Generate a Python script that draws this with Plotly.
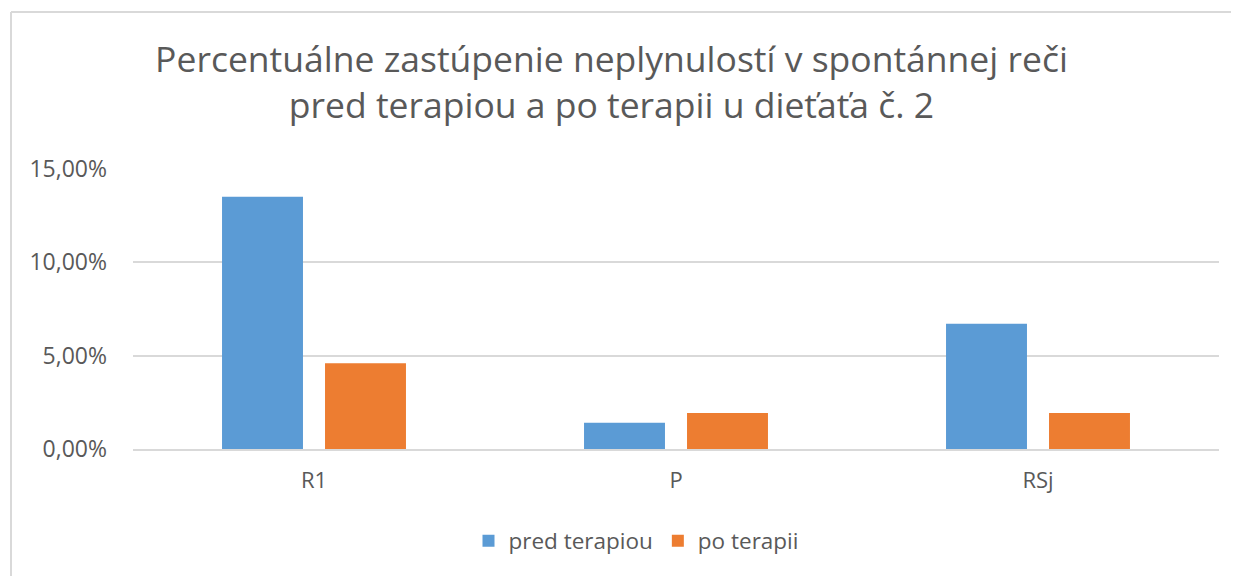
import plotly.graph_objects as go

categories = ["R1", "P", "RSj"]
pred_terapiou = [0.1351, 0.0140, 0.0671]
po_terapii = [0.0460, 0.0193, 0.0193]
series_names = ["pred terapiou", "po terapii"]
y_ticks = [0, 0.05, 0.10, 0.15]
title_lines = ["Percentuálne zastúpenie neplynulostí v spontánnej reči",
               "pred terapiou a po terapii u dieťaťa č. 2"]

# page has an 8px body margin, so the figure is sized/offset to compensate
OFF = 8
W, H = 1239 - OFF, 576 - OFF
L, R, T, B = 133 - OFF, 20, 169 - OFF, 127

fig = go.Figure()
fig.add_trace(go.Bar(x=categories, y=pred_terapiou, name=series_names[0],
                     marker=dict(color="#5b9bd5", line=dict(width=0))))
fig.add_trace(go.Bar(x=categories, y=po_terapii, name=series_names[1],
                     marker=dict(color="#ed7d31", line=dict(width=0))))

font_family = "'Open Sans', sans-serif"
fig.update_layout(
    width=W, height=H,
    margin=dict(l=L, r=R, t=T, b=B, autoexpand=False),
    paper_bgcolor="white", plot_bgcolor="white",
    separators=",.",
    barmode="group", bargap=0.431, bargroupgap=0.214,
    title=dict(text="<br>".join(title_lines), x=(611.5 - OFF) / W, xanchor="center",
               xref="container", yref="container",
               y=1 - 64 / H, yanchor="top",
               font=dict(family=font_family, size=35.5, color="#595959")),
    font=dict(family=font_family, color="#595959"),
    showlegend=True,
    legend=dict(orientation="h", xref="container", yref="container",
                x=(636 - OFF) / W, xanchor="center", y=1 - (541 - OFF) / H, yanchor="middle",
                font=dict(size=22.5, color="#595959"), itemwidth=30,
                traceorder="normal"),
    hovermode=False,
)
fig.update_yaxes(range=[0, 0.15], tickvals=y_ticks, tickformat=".2%",
                 showgrid=True, gridcolor="#d9d9d9", gridwidth=2,
                 zeroline=False, showline=False,
                 tickfont=dict(size=23, color="#595959"), ticklabelstandoff=25)
fig.update_xaxes(showgrid=False, showline=True, linecolor="#d9d9d9", linewidth=2,
                 tickfont=dict(size=22, color="#595959"), ticks="",
                 ticklabelstandoff=11)

# chart frame (left and top edges)
pw, ph = W - L - R, H - T - B
x0 = (11 - OFF - L) / pw
y0 = (H - B - (12 - OFF)) / ph
fig.add_shape(type="line", xref="paper", yref="paper", x0=x0, x1=1.1,
              y0=y0, y1=y0, line=dict(color="#d9d9d9", width=2))
fig.add_shape(type="line", xref="paper", yref="paper", x0=x0, x1=x0,
              y0=y0, y1=-0.5, line=dict(color="#d9d9d9", width=2))

fig.write_html("out.html")
